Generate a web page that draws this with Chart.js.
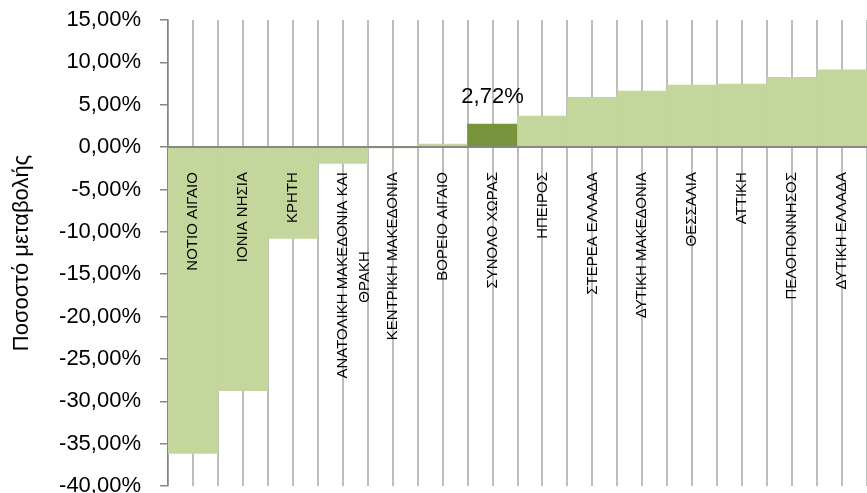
<!DOCTYPE html>
<html lang="el">
<head>
<meta charset="UTF-8">
<title>Ποσοστό μεταβολής ανά περιφέρεια</title>
<script src="https://cdn.jsdelivr.net/npm/chart.js"></script>
<style>
    html, body { margin: 0; padding: 0; background: #fff; }
    canvas { display: block; }
</style>
</head>
<body>
<canvas id="chart" width="867" height="493"></canvas>
<script>
    // categories, in the order they appear on the chart
    const regions = [
        'ΝΟΤΙΟ ΑΙΓΑΙΟ', 'ΙΟΝΙΑ ΝΗΣΙΑ', 'ΚΡΗΤΗ', ['ΑΝΑΤΟΛΙΚΗ ΜΑΚΕΔΟΝΙΑ ΚΑΙ', 'ΘΡΑΚΗ'],
        'ΚΕΝΤΡΙΚΗ ΜΑΚΕΔΟΝΙΑ', 'ΒΟΡΕΙΟ ΑΙΓΑΙΟ', 'ΣΥΝΟΛΟ ΧΩΡΑΣ', 'ΗΠΕΙΡΟΣ', 'ΣΤΕΡΕΑ ΕΛΛΑΔΑ',
        'ΔΥΤΙΚΗ ΜΑΚΕΔΟΝΙΑ', 'ΘΕΣΣΑΛΙΑ', 'ΑΤΤΙΚΗ', 'ΠΕΛΟΠΟΝΝΗΣΟΣ', 'ΔΥΤΙΚΗ ΕΛΛΑΔΑ'
    ];
    // percentage change per region
    const change = [-36.15, -28.76, -10.78, -1.93, -0.05, 0.35, 2.72, 3.66, 5.87, 6.61, 7.32, 7.44, 8.22, 9.12];
    // the country total is the highlighted bar
    const totalRegion = 'ΣΥΝΟΛΟ ΧΩΡΑΣ';
    // y axis ticks
    const yMin = -40, yMax = 15, yStep = 5;
    const yTitle = 'Ποσοστό μεταβολής';

    const FONT = '"Liberation Sans", Arial, sans-serif';
    const lightGreen = '#c3d69b';
    const darkGreen = '#77933c';
    const gridGrey = '#bdbdbd';
    const axisGrey = '#878787';

    const totalIndex = regions.indexOf(totalRegion);
    const barColors = regions.map((r, i) => i === totalIndex ? darkGreen : lightGreen);

    function pct(v) {
        return v.toFixed(2).replace('.', ',') + '%';
    }

    // pad the shorter lines of a wrapped label so they sit centred under the longest one
    const measure = document.createElement('canvas').getContext('2d');
    function centredLines(value) {
        const label = this.getLabelForValue(value);
        if (!Array.isArray(label)) return label;
        measure.font = '15px ' + FONT;
        const widths = label.map(l => measure.measureText(l).width);
        const maxW = Math.max(...widths);
        const spaceW = measure.measureText(' ').width;
        return label.map((l, i) => l + ' '.repeat(Math.round((maxW - widths[i]) / 2 / spaceW)));
    }

    // x axes sit inside the plot, so they should not push the plot edges in
    function noSidePadding(scale) {
        scale.paddingLeft = 0;
        scale.paddingRight = 0;
    }

    const totalLabel = {
        id: 'totalLabel',
        afterDatasetsDraw(chart) {
            const bar = chart.getDatasetMeta(0).data[totalIndex];
            const c = chart.ctx;
            c.save();
            c.font = '22px ' + FONT;
            c.fillStyle = '#000';
            c.textAlign = 'center';
            c.textBaseline = 'middle';
            c.fillText(pct(change[totalIndex]), bar.x, bar.y - 27);
            c.restore();
        }
    };

    new Chart(document.getElementById('chart'), {
        type: 'bar',
        data: {
            labels: regions,
            datasets: [{
                data: change,
                backgroundColor: barColors,
                borderWidth: 0,
                barPercentage: 1,
                categoryPercentage: 1
            }]
        },
        options: {
            responsive: false,
            animation: false,
            layout: { padding: { top: 20, bottom: 7, left: 0, right: 0 } },
            plugins: { legend: { display: false }, tooltip: { enabled: false } },
            scales: {
                x: {
                    axis: 'x',
                    position: { y: 0 },
                    offset: true,
                    grid: { offset: true, color: gridGrey, lineWidth: 2, drawTicks: false },
                    border: { display: true, color: axisGrey, width: 2, z: 1 },
                    ticks: {
                        autoSkip: false,
                        minRotation: 90,
                        maxRotation: 90,
                        padding: 25,
                        z: 1,
                        color: '#000',
                        font: { family: FONT, size: 15, lineHeight: 1.5 },
                        callback: centredLines
                    },
                    afterFit: noSidePadding
                },
                x2: {
                    axis: 'x',
                    position: { y: 0 },
                    offset: true,
                    grid: { offset: false, color: gridGrey, lineWidth: 2, drawTicks: false },
                    border: { display: false },
                    ticks: { display: false },
                    afterFit: noSidePadding
                },
                y: {
                    min: yMin,
                    max: yMax,
                    ticks: {
                        stepSize: yStep,
                        padding: 19,
                        color: '#000',
                        font: { family: FONT, size: 22 },
                        callback: v => pct(v)
                    },
                    grid: { drawOnChartArea: false, drawTicks: true, tickLength: 8, color: axisGrey, lineWidth: 1.5 },
                    border: { color: axisGrey, width: 1.5 },
                    title: {
                        display: true,
                        text: yTitle,
                        color: '#000',
                        font: { family: FONT, size: 22 },
                        padding: { top: 9, bottom: 0 }
                    },
                    afterFit(scale) {
                        scale.width = 168;
                        scale.paddingTop = 0;
                        scale.paddingBottom = 0;
                    }
                }
            }
        },
        plugins: [totalLabel]
    });
</script>
</body>
</html>
